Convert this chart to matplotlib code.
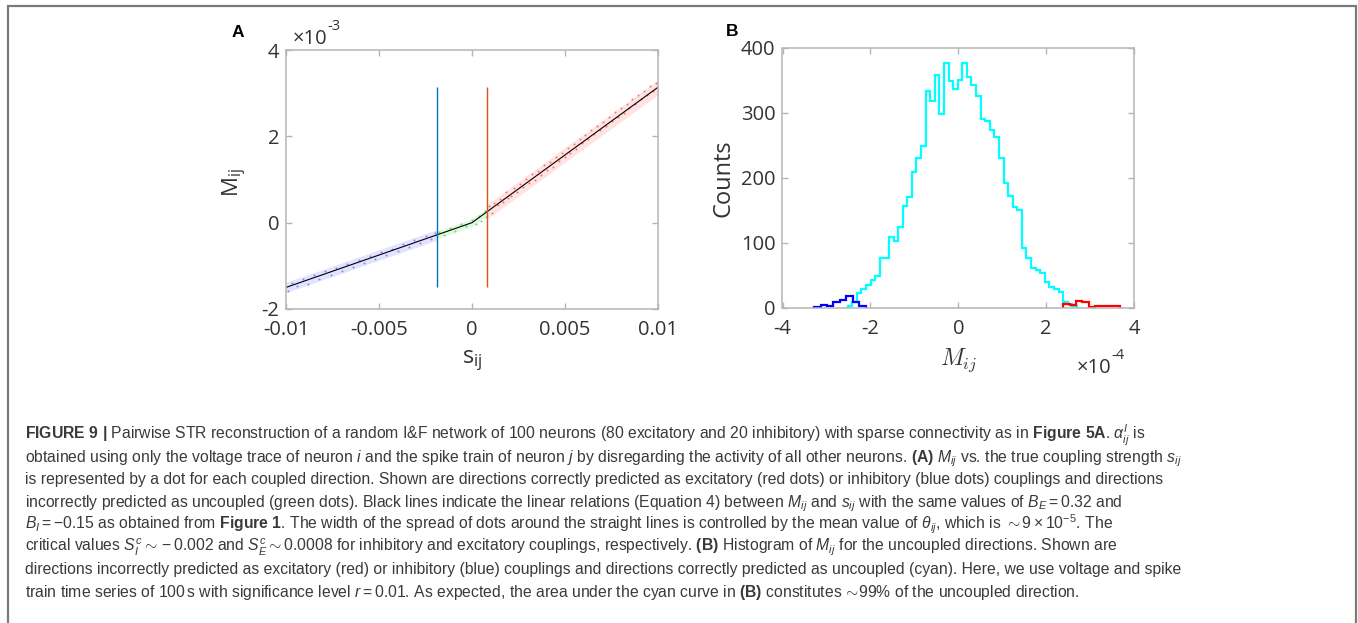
import numpy as np
import matplotlib
matplotlib.use("Agg")
import matplotlib.pyplot as plt
from matplotlib.patches import Rectangle

# ---- panel A data (M in units of 1e-3) ----
line_s = [-0.01, 0.0, 0.0102]          # knots of the two linear relations
line_m = [-1.5, 0.0, 3.2]
crit_inh, crit_exc = -0.0019, 0.0008   # critical values S_I^c, S_E^c
crit_lo, crit_hi = -1.5, 3.15

red_s = [0.00092, 0.00105, 0.0012, 0.00138, 0.00151, 0.00167, 0.00183, 0.00196, 0.00212, 0.00228,
         0.00241, 0.00259, 0.00274, 0.00291, 0.00305, 0.00322, 0.00338, 0.00355, 0.00371, 0.00388,
         0.00402, 0.00419, 0.00433, 0.00451, 0.00467, 0.00482, 0.00498, 0.00515, 0.00529, 0.00547,
         0.00561, 0.00578, 0.00594, 0.00609, 0.00626, 0.00641, 0.00657, 0.00673, 0.00688, 0.00705,
         0.00719, 0.00736, 0.00752, 0.00768, 0.00783, 0.00799, 0.00815, 0.00831, 0.00846, 0.00862,
         0.00878, 0.00893, 0.00909, 0.00925, 0.00941, 0.00956, 0.00972, 0.00988, 0.01003, 0.01015]
red_m = [0.38, 0.22, 0.45, 0.40, 0.55, 0.47, 0.70, 0.58, 0.62, 0.80,
         0.71, 0.90, 0.82, 1.02, 0.91, 1.12, 0.98, 1.20, 1.10, 1.33,
         1.21, 1.40, 1.30, 1.52, 1.42, 1.62, 1.51, 1.74, 1.62, 1.82,
         1.71, 1.94, 1.85, 2.02, 1.93, 2.14, 2.05, 2.25, 2.14, 2.34,
         2.24, 2.45, 2.35, 2.56, 2.44, 2.65, 2.55, 2.76, 2.66, 2.86,
         2.75, 2.96, 2.87, 3.06, 2.95, 3.16, 3.06, 3.24, 3.12, 3.30]
blue_s = [-0.0099, -0.0097, -0.0094, -0.0091, -0.0088, -0.0085, -0.0082, -0.0079, -0.0076, -0.0073,
          -0.0070, -0.0067, -0.0064, -0.0061, -0.0058, -0.0055, -0.0052, -0.0049, -0.0046, -0.0043,
          -0.0040, -0.0037, -0.0034, -0.0031, -0.0028, -0.0025, -0.0022, -0.0020]
blue_m = [-1.58, -1.40, -1.47, -1.30, -1.42, -1.22, -1.30, -1.12, -1.22, -1.04,
          -1.12, -0.95, -1.02, -0.86, -0.93, -0.77, -0.84, -0.68, -0.75, -0.60,
          -0.66, -0.49, -0.56, -0.41, -0.47, -0.32, -0.38, -0.25]
green_s = [-0.0018, -0.0015, -0.0012, -0.0009, -0.0006, -0.0003, 0.0, 0.0002, 0.0004, 0.0005, 0.0007, 0.00075]
green_m = [-0.22, -0.28, -0.12, -0.19, -0.04, -0.08, 0.06, -0.03, 0.16, 0.05, 0.28, 0.14]
spread_red, spread_blue, spread_green = 0.17, 0.12, 0.09

a_xticks = [-0.01, -0.005, 0, 0.005, 0.01]
a_xticklabels = ["-0.01", "-0.005", "0", "0.005", "0.01"]
a_yticks = [-2, 0, 2, 4]

# ---- panel B data (M in units of 1e-4) ----
cyan_range = (-2.516, 2.70)
cyan_counts = [2, 9, 22, 28, 35, 43, 48, 77, 77, 108, 102, 124, 157, 171, 209, 230, 249, 333, 318, 358,
               298, 376, 348, 337, 350, 376, 355, 343, 325, 291, 287, 274, 262, 230, 192, 172, 155, 150, 92, 76,
               61, 58, 54, 40, 32, 28, 24, 9, 5, 3]
blue_range = (-3.28, -2.11)
blue_counts = [1, 4, 2, 8, 12, 18, 9, 2]
red_range = (2.39, 3.69)
red_counts = [6, 4, 11, 8, 1, 2, 2, 3, 3]
b_xticks = [-4, -2, 0, 2, 4]
b_yticks = [0, 100, 200, 300, 400]

caption = [
    r"$\mathbf{FIGURE\ 9\ |}$ Pairwise STR reconstruction of a random I&F network of 100 neurons (80 excitatory and 20 inhibitory) with sparse connectivity as in $\mathbf{Figure\ 5A}$. $\alpha^{I}_{ij}$ is",
    r"obtained using only the voltage trace of neuron $i$ and the spike train of neuron $j$ by disregarding the activity of all other neurons. $\mathbf{(A)}$ $M_{ij}$ vs. the true coupling strength $s_{ij}$",
    r"is represented by a dot for each coupled direction. Shown are directions correctly predicted as excitatory (red dots) or inhibitory (blue dots) couplings and directions",
    r"incorrectly predicted as uncoupled (green dots). Black lines indicate the linear relations (Equation 4) between $M_{ij}$ and $s_{ij}$ with the same values of $B_E = \mathrm{0.32}$ and",
    r"$B_I = -\mathrm{0.15}$ as obtained from $\mathbf{Figure\ 1}$. The width of the spread of dots around the straight lines is controlled by the mean value of $\theta_{ij}$, which is $\sim \mathrm{9} \times \mathrm{10}^{-5}$. The",
    r"critical values $S^c_I \sim -\mathrm{0.002}$ and $S^c_E \sim \mathrm{0.0008}$ for inhibitory and excitatory couplings, respectively. $\mathbf{(B)}$ Histogram of $M_{ij}$ for the uncoupled directions. Shown are",
    r"directions incorrectly predicted as excitatory (red) or inhibitory (blue) couplings and directions correctly predicted as uncoupled (cyan). Here, we use voltage and spike",
    r"train time series of 100$\,$s with significance level $r = \mathrm{0.01}$. As expected, the area under the cyan curve in $\mathbf{(B)}$ constitutes $\!\sim\!$99% of the uncoupled direction.",
]

W, H = 1358, 623
cap_font = "Liberation Sans"
cap_size = 11.3

plt.rcParams["font.family"] = ["Open Sans", "DejaVu Sans"]
plt.rcParams["axes.unicode_minus"] = False
plt.rcParams["mathtext.fontset"] = "custom"
plt.rcParams["mathtext.rm"] = cap_font
plt.rcParams["mathtext.it"] = cap_font + ":italic"
plt.rcParams["mathtext.bf"] = cap_font + ":bold"

TXT = "#333333"
BOX = "#b5b5b5"

fig = plt.figure(figsize=(W / 100, H / 100), dpi=100)


def px_axes(l, t, r, b):
    return fig.add_axes([l / W, 1 - b / H, (r - l) / W, (b - t) / H])


def style(ax):
    for sp in ax.spines.values():
        sp.set_color(BOX)
        sp.set_linewidth(1.1)
    ax.tick_params(direction="in", top=True, right=True, length=4, width=1, color=BOX,
                   labelcolor=TXT, labelsize=14.5)
    ax.tick_params(axis="x", pad=8)
    ax.tick_params(axis="y", pad=5)


def exponent(ax, x, y, power):
    base = ax.text(x, y, "×10", transform=ax.transAxes, fontsize=14.5, color=TXT,
                   va="baseline", ha="left")
    ax.annotate(power, xy=(1.0, 0.72), xycoords=base, fontsize=10.5, color=TXT,
                va="bottom", ha="left")


# ---- panel A ----
ax = px_axes(286, 50, 658, 309)
style(ax)
seg = [(line_s[0], crit_inh, spread_blue, "#8080ff"),
       (crit_inh, crit_exc, spread_green, "#70e070"),
       (crit_exc, line_s[-1], spread_red, "#ff8080")]
for s0, s1, w, c in seg:
    ss = np.array([s0, 0.0, s1]) if s0 < 0 < s1 else np.array([s0, s1])
    mm = np.interp(ss, line_s, line_m)
    ax.fill_between(ss, mm - w, mm + w, color=c, alpha=0.22, lw=0)
ax.scatter(red_s, red_m, s=2, color="#ff3b3b", lw=0, alpha=0.7)
ax.scatter(blue_s, blue_m, s=2, color="#5a5aff", lw=0, alpha=0.7)
ax.scatter(green_s, green_m, s=2, color="#30d030", lw=0, alpha=0.7)
ax.plot(line_s, line_m, color="black", lw=0.8)
ax.vlines(crit_inh, crit_lo, crit_hi, color="#0072BD", lw=1)
ax.vlines(crit_exc, crit_lo, crit_hi, color="#D95319", lw=1)
ax.set_xlim(-0.01, 0.01)
ax.set_ylim(-2, 4)
ax.set_xticks(a_xticks)
ax.set_xticklabels(a_xticklabels)
ax.set_yticks(a_yticks)
ax.set_xlabel(r"$\mathregular{s_{ij}}$", fontsize=17, color=TXT)
ax.xaxis.set_label_coords(0.5, -0.15)
ax.set_ylabel(r"$\mathregular{M_{ij}}$", fontsize=16, color=TXT)
ax.yaxis.set_label_coords(-0.10, 0.49)
exponent(ax, 0.019, 1.025, "-3")

# ---- panel B ----
bx = px_axes(782.5, 47.7, 1134, 307.7)
style(bx)
for counts, (lo, hi), col in [(cyan_counts, cyan_range, "#00ffff"),
                              (blue_counts, blue_range, "#0000ff"),
                              (red_counts, red_range, "#ff0000")]:
    edges = np.linspace(lo, hi, len(counts) + 1)
    bx.stairs(counts, edges, color=col, lw=1.6, baseline=0)
bx.set_xlim(-4, 4)
bx.set_ylim(0, 400)
bx.set_xticks(b_xticks)
bx.set_yticks(b_yticks)
bx.set_xlabel(r"$M_{ij}$", fontsize=17, color=TXT, math_fontfamily="cm")
bx.xaxis.set_label_coords(0.5, -0.15)
bx.set_ylabel("Counts", fontsize=17, color=TXT)
bx.yaxis.set_label_coords(-0.135, 0.5)
exponent(bx, 0.838, -0.25, "-4")

fig.text(232 / W, 1 - 37 / H, "A", fontsize=12.5, fontweight="bold",
         family="Liberation Sans", va="baseline")
fig.text(726 / W, 1 - 36 / H, "B", fontsize=12.5, fontweight="bold",
         family="Liberation Sans", va="baseline")

# ---- caption ----
for k, line in enumerate(caption):
    fig.text(25 / W, 1 - (439.5 + 22.45 * k) / H, line, fontsize=cap_size,
             family=[cap_font, "DejaVu Sans"], color="#3a3a3a", va="baseline", ha="left")

fig.add_artist(Rectangle((7.5 / W, -0.05), (1355.7 - 7.5) / W, 1.05 - 6 / H,
                         transform=fig.transFigure, fill=False, ec="#7a7a7a", lw=1.6,
                         clip_on=False))

fig.savefig("out.png", dpi=100)
